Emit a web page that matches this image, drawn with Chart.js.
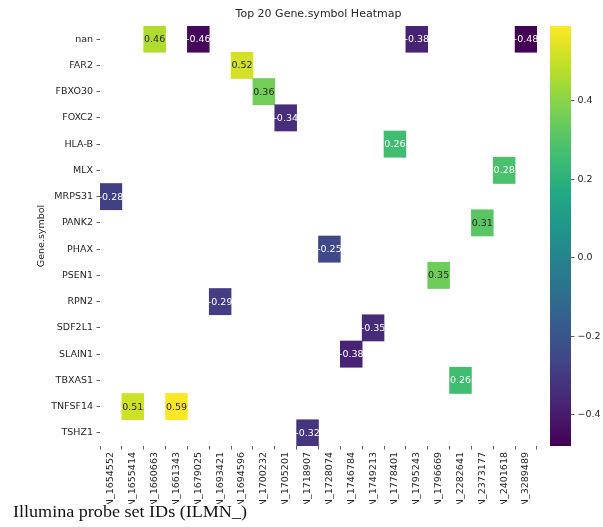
<!DOCTYPE html>
<html>
<head>
<meta charset="utf-8">
<script src="https://cdn.jsdelivr.net/npm/chart.js@4/dist/chart.umd.min.js"></script>
<style>
  html, body { margin: 0; padding: 0; background: #fff; }
  #page { position: relative; width: 603px; height: 527px; background: #fff; overflow: hidden; }
  #plotWrap { position: absolute; left: 0; top: 0; width: 603px; height: 504px; overflow: hidden; }
  #heat { position: absolute; left: 0; top: 0; }
  #cbar { position: absolute; left: 540px; top: 0; }
  #caption { position: absolute; left: 13px; top: 503px; font-family: "Liberation Serif", "Times New Roman", serif;
             font-size: 16px; color: #111; white-space: nowrap; line-height: 18px;
             transform: scaleX(1.13); transform-origin: 0 0; }
</style>
</head>
<body>
<div id="page">
  <div id="plotWrap">
    <canvas id="heat" width="540" height="570"></canvas>
    <canvas id="cbar" width="70" height="470"></canvas>
  </div>
  <div id="caption">Illumina probe set IDs (ILMN_)</div>
</div>
<script>
// Row categories (gene symbols), top to bottom
const genes = ['nan', 'FAR2', 'FBXO30', 'FOXC2', 'HLA-B', 'MLX', 'MRPS31', 'PANK2',
               'PHAX', 'PSEN1', 'RPN2', 'SDF2L1', 'SLAIN1', 'TBXAS1', 'TNFSF14', 'TSHZ1'];

// Column categories (probe IDs), left to right
const probeIds = ['ILMN_1654552', 'ILMN_1655414', 'ILMN_1660663', 'ILMN_1661343', 'ILMN_1679025',
                  'ILMN_1693421', 'ILMN_1694596', 'ILMN_1700232', 'ILMN_1705201', 'ILMN_1718907',
                  'ILMN_1728074', 'ILMN_1746784', 'ILMN_1749213', 'ILMN_1778401', 'ILMN_1795243',
                  'ILMN_1796669', 'ILMN_2282641', 'ILMN_2373177', 'ILMN_2401618', 'ILMN_3289489'];

// Gene each probe maps to (one filled cell per column)
const probeGene = ['MRPS31', 'TNFSF14', 'nan', 'TNFSF14', 'nan', 'RPN2', 'FAR2', 'FBXO30', 'FOXC2', 'TSHZ1',
                   'PHAX', 'SLAIN1', 'SDF2L1', 'HLA-B', 'nan', 'PSEN1', 'TBXAS1', 'PANK2', 'MLX', 'nan'];

// Cell values per probe
const cellValues = [-0.28, 0.51, 0.46, 0.59, -0.46, -0.29, 0.52, 0.36, -0.34, -0.32,
                    -0.25, -0.38, -0.35, 0.26, -0.38, 0.35, 0.26, 0.31, 0.28, -0.48];

// Colour bar ticks
const colorTicks = [-0.4, -0.2, 0.0, 0.2, 0.4];

const vmin = Math.min(...cellValues);
const vmax = Math.max(...cellValues);

// Viridis colormap anchors
const VIRIDIS = ['#440154', '#482475', '#414487', '#355f8d', '#2a788e', '#21918c',
                 '#22a884', '#44bf70', '#7ad151', '#bddf26', '#fde725'];
function hexToRgb(h) { return [1, 3, 5].map(i => parseInt(h.slice(i, i + 2), 16)); }
const VIR_RGB = VIRIDIS.map(hexToRgb);
function viridisRgb(t) {
  t = Math.max(0, Math.min(1, t));
  const p = t * (VIR_RGB.length - 1);
  const i = Math.min(Math.floor(p), VIR_RGB.length - 2);
  const f = p - i;
  return VIR_RGB[i].map((c, k) => Math.round(c + (VIR_RGB[i + 1][k] - c) * f));
}
function valueRgb(v) { return viridisRgb((v - vmin) / (vmax - vmin)); }
function rgbStr(c) { return `rgb(${c[0]},${c[1]},${c[2]})`; }
function luminance(c) {
  const l = c.map(x => { x /= 255; return x <= 0.03928 ? x / 12.92 : Math.pow((x + 0.055) / 1.055, 2.4); });
  return 0.2126 * l[0] + 0.7152 * l[1] + 0.0722 * l[2];
}

const FONT = 'DejaVu Sans';
const TEXT = '#262626';

const rowIndex = probeGene.map(g => genes.indexOf(g));

// Annotate every cell with its value
const cellLabels = {
  id: 'cellLabels',
  afterDatasetsDraw(chart) {
    const ctx = chart.ctx;
    const meta = chart.getDatasetMeta(0);
    ctx.save();
    ctx.font = `9.5px "${FONT}"`;
    ctx.textAlign = 'center';
    ctx.textBaseline = 'middle';
    meta.data.forEach((bar, i) => {
      const v = cellValues[i];
      const c = valueRgb(v);
      ctx.fillStyle = luminance(c) > 0.408 ? TEXT : '#ffffff';
      const y = (bar.y + bar.base) / 2;
      ctx.fillText(v.toFixed(2), bar.x, y + 0.5);
    });
    ctx.restore();
  }
};

new Chart(document.getElementById('heat'), {
  type: 'bar',
  data: {
    labels: probeIds,
    datasets: [{
      data: rowIndex.map(r => [r - 0.5, r + 0.5]),
      backgroundColor: ctx => rgbStr(valueRgb(cellValues[ctx.dataIndex])),
      borderWidth: 0,
      barPercentage: 1.0,
      categoryPercentage: 1.0
    }]
  },
  options: {
    responsive: false,
    animation: false,
    devicePixelRatio: 1,
    layout: { padding: 0 },
    plugins: {
      legend: { display: false },
      tooltip: { enabled: false },
      title: {
        display: true,
        text: 'Top 20 Gene.symbol Heatmap',
        fullSize: false,
        color: TEXT,
        font: { family: FONT, size: 11, weight: 'normal' },
        padding: { top: 8, bottom: 4.8 }
      }
    },
    scales: {
      x: {
        type: 'category',
        offset: true,
        grid: { drawOnChartArea: false, drawTicks: true, tickLength: 3.5, tickWidth: 0.8, tickColor: '#333' },
        border: { display: false },
        ticks: {
          autoSkip: false, minRotation: 90, maxRotation: 90, padding: 2.5,
          color: TEXT, font: { family: FONT, size: 9.5 }
        },
        afterFit(scale) { scale.height = 124; }
      },
      y: {
        type: 'linear',
        reverse: true,
        min: -0.5,
        max: genes.length - 0.5,
        afterBuildTicks(scale) { scale.ticks = genes.map((g, i) => ({ value: i })); },
        grid: { drawOnChartArea: false, drawTicks: true, tickLength: 3.5, tickWidth: 0.8, tickColor: '#333' },
        border: { display: false },
        ticks: {
          padding: 3.5, color: TEXT, font: { family: FONT, size: 9.5 },
          callback: v => genes[v]
        },
        title: {
          display: true, text: 'Gene.symbol', color: TEXT,
          font: { family: FONT, size: 9.5 }, padding: { top: 36, bottom: 0 }
        },
        afterFit(scale) { scale.width = 100; }
      }
    }
  },
  plugins: [cellLabels]
});

// Colour bar: gradient painted along the value scale
const gradientFill = {
  id: 'gradientFill',
  beforeDatasetsDraw(chart) {
    const { ctx, chartArea: a } = chart;
    const ys = chart.scales.y;
    const g = ctx.createLinearGradient(0, ys.getPixelForValue(vmin), 0, ys.getPixelForValue(vmax));
    const n = 64;
    for (let i = 0; i <= n; i++) g.addColorStop(i / n, rgbStr(viridisRgb(i / n)));
    ctx.save();
    ctx.fillStyle = g;
    ctx.fillRect(a.left, a.top, a.right - a.left, a.bottom - a.top);
    ctx.restore();
  }
};

new Chart(document.getElementById('cbar'), {
  type: 'bar',
  data: { labels: [''], datasets: [{ data: [] }] },
  options: {
    responsive: false,
    animation: false,
    devicePixelRatio: 1,
    layout: { padding: { left: 10, top: 26, bottom: 24, right: 0 } },
    plugins: { legend: { display: false }, tooltip: { enabled: false } },
    scales: {
      x: { display: false },
      y: {
        type: 'linear',
        position: 'right',
        min: vmin,
        max: vmax,
        afterBuildTicks(scale) { scale.ticks = colorTicks.map(v => ({ value: v })); },
        grid: { drawOnChartArea: false, drawTicks: true, tickLength: 3.5, tickWidth: 0.8, tickColor: '#333' },
        border: { display: false },
        ticks: {
          padding: 3, color: TEXT, font: { family: FONT, size: 9.5 },
          callback: v => (v < 0 ? '\u2212' : '') + Math.abs(v).toFixed(1)
        },
        afterFit(scale) { scale.width = 39; }
      }
    }
  },
  plugins: [gradientFill]
});
</script>
</body>
</html>
